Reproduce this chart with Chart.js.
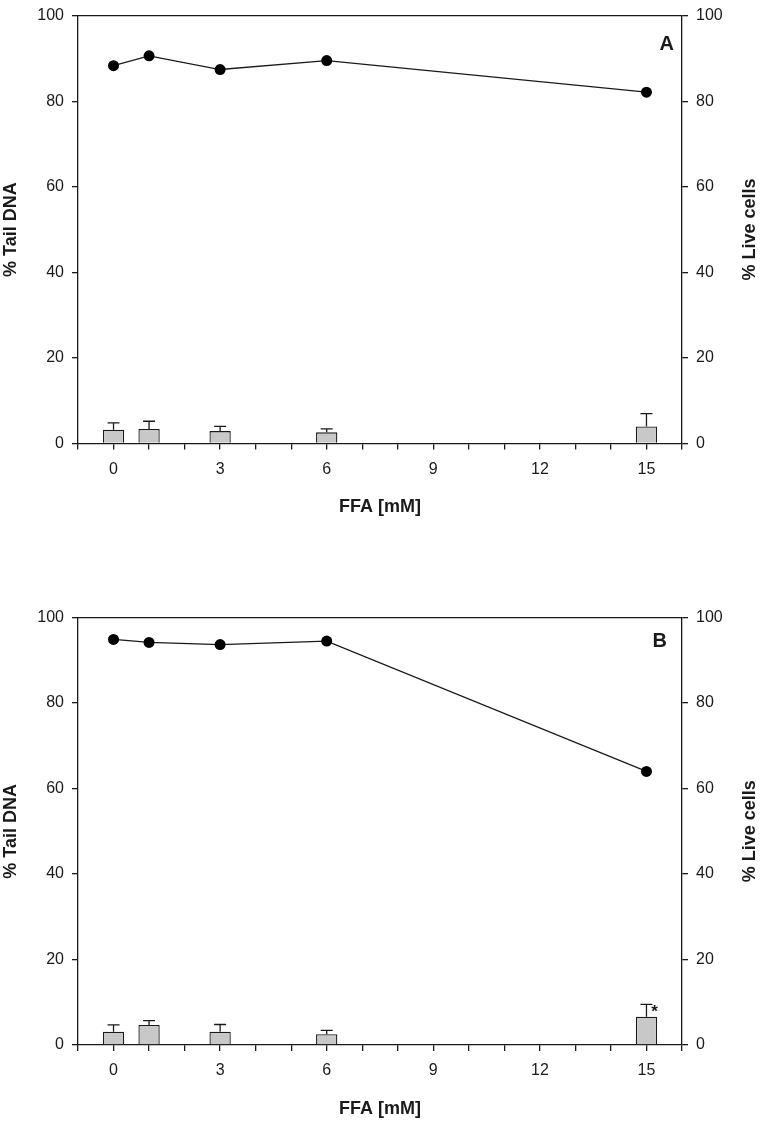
<!DOCTYPE html>
<html>
<head>
<meta charset="utf-8">
<script src="https://cdn.jsdelivr.net/npm/chart.js@4.4.1/dist/chart.umd.min.js"></script>
<style>
  body { margin: 0; background: #fff; }
  #wrap { position: relative; width: 760px; height: 1121px; overflow: hidden; }
  canvas { position: absolute; left: 0; }
</style>
</head>
<body>
<div id="wrap">
  <canvas id="chartA" width="760" height="562" style="top:-2.5px"></canvas>
  <canvas id="chartB" width="760" height="521" style="top:600px"></canvas>
</div>
<script>
// FFA concentrations (mM)
const ffa = [0, 1, 3, 6, 15];

// panel A
const liveA = [88.3, 90.6, 87.4, 89.5, 82.1];
const tailA = [3.2, 3.4, 2.9, 2.6, 4.0];
const tailErrA = [1.6, 1.8, 1.1, 0.8, 3.0];

// panel B
const liveB = [94.9, 94.2, 93.7, 94.5, 64.0];
const tailB = [3.1, 4.7, 3.1, 2.5, 6.6];
const tailErrB = [1.6, 1.0, 1.7, 0.9, 2.9];

const xTicks = [0, 3, 6, 9, 12, 15];
const yTicks = [0, 20, 40, 60, 80, 100];

const FONT = '"Liberation Sans", Arial, sans-serif';
const INK = '#1a1a1a';

// draws frame line, error bars, star, titles, panel letter
const extras = {
  id: 'extras',
  afterDatasetsDraw(chart, args, o) {
    const { ctx, chartArea: a } = chart;
    const xs = chart.scales.x, ys = chart.scales.y;
    ctx.save();
    ctx.strokeStyle = INK;
    ctx.lineWidth = 1.3;
    // top frame
    ctx.beginPath();
    ctx.moveTo(a.left, a.top);
    ctx.lineTo(a.right, a.top);
    ctx.stroke();
    // upward error bars
    o.vals.forEach((v, i) => {
      const px = xs.getPixelForValue(ffa[i]);
      const y0 = ys.getPixelForValue(v);
      const y1 = ys.getPixelForValue(v + o.errs[i]);
      ctx.beginPath();
      ctx.moveTo(px, y0);
      ctx.lineTo(px, y1);
      ctx.moveTo(px - 6, y1);
      ctx.lineTo(px + 6, y1);
      ctx.stroke();
    });
    ctx.fillStyle = INK;
    if (o.star != null) {
      const i = o.star;
      const px = xs.getPixelForValue(ffa[i]);
      const y1 = ys.getPixelForValue(o.vals[i] + o.errs[i]);
      ctx.font = 'bold 17px ' + FONT;
      ctx.textAlign = 'center';
      ctx.textBaseline = 'middle';
      ctx.fillText('*', px + 8, y1 + 8);
    }
    // panel letter
    ctx.font = 'bold 20px ' + FONT;
    ctx.textAlign = 'right';
    ctx.textBaseline = 'middle';
    ctx.fillText(o.letter, a.right + o.letterDx, a.top + o.letterDy);
    // axis titles
    ctx.font = 'bold 18px ' + FONT;
    ctx.textAlign = 'center';
    ctx.fillText('FFA [mM]', (a.left + a.right) / 2, a.bottom + 64);
    const cy = (a.top + a.bottom) / 2;
    [[11, '% Tail DNA'], [750, '% Live cells']].forEach(([x, t]) => {
      ctx.save();
      ctx.translate(x, cy);
      ctx.rotate(-Math.PI / 2);
      ctx.fillText(t, 0, 0);
      ctx.restore();
    });
    ctx.restore();
  }
};

function yAxis(pos) {
  return {
    type: 'linear',
    position: pos,
    min: 0,
    max: 100,
    afterBuildTicks: s => { s.ticks = yTicks.map(v => ({ value: v })); },
    afterFit: s => { s.width = 78; },
    grid: { drawOnChartArea: false, tickLength: 6, color: INK, lineWidth: 1.3 },
    border: { color: INK, width: 1.3 },
    ticks: { color: INK, padding: 8, font: { family: FONT, size: 16 } }
  };
}

function makePanel(id, live, tail, err, opts) {
  const bottomH = opts.xHeight;
  return new Chart(document.getElementById(id), {
    type: 'bar',
    data: {
      datasets: [
        {
          type: 'line',
          data: ffa.map((x, i) => ({ x, y: live[i] })),
          yAxisID: 'y2',
          borderColor: INK,
          borderWidth: 1.3,
          pointRadius: 5.5,
          pointBackgroundColor: '#000',
          pointBorderWidth: 0,
          tension: 0
        },
        {
          type: 'bar',
          data: ffa.map((x, i) => ({ x, y: tail[i] })),
          yAxisID: 'y',
          backgroundColor: '#c8c8c8',
          borderColor: INK,
          borderWidth: 1.3,
          barPercentage: 0.6,
          categoryPercentage: 1
        }
      ]
    },
    options: {
      responsive: false,
      animation: false,
      layout: { padding: { top: 10, left: 0, right: 0, bottom: 0 } },
      plugins: {
        legend: { display: false },
        tooltip: { enabled: false },
        extras: {
          vals: tail, errs: err, star: opts.star,
          letter: opts.letter, letterDx: opts.letterDx, letterDy: opts.letterDy
        }
      },
      scales: {
        x: {
          type: 'linear',
          min: -1,
          max: 16,
          offset: false,
          afterFit: s => { s.height = bottomH; },
          grid: { drawOnChartArea: false, tickLength: 6, color: INK, lineWidth: 1.3, offset: false },
          border: { color: INK, width: 1.3 },
          ticks: {
            stepSize: 1,
            autoSkip: false,
            maxRotation: 0,
            color: INK,
            padding: 10,
            font: { family: FONT, size: 16 },
            callback: v => (xTicks.includes(v) ? String(v) : '')
          }
        },
        y: yAxis('left'),
        y2: yAxis('right')
      }
    },
    plugins: [extras]
  });
}

makePanel('chartA', liveA, tailA, tailErrA,
  { letter: 'A', letterDx: -8, letterDy: 28.5, star: null, xHeight: 116.5 });
makePanel('chartB', liveB, tailB, tailErrB,
  { letter: 'B', letterDx: -15, letterDy: 24, star: 4, xHeight: 76 });
</script>
</body>
</html>
